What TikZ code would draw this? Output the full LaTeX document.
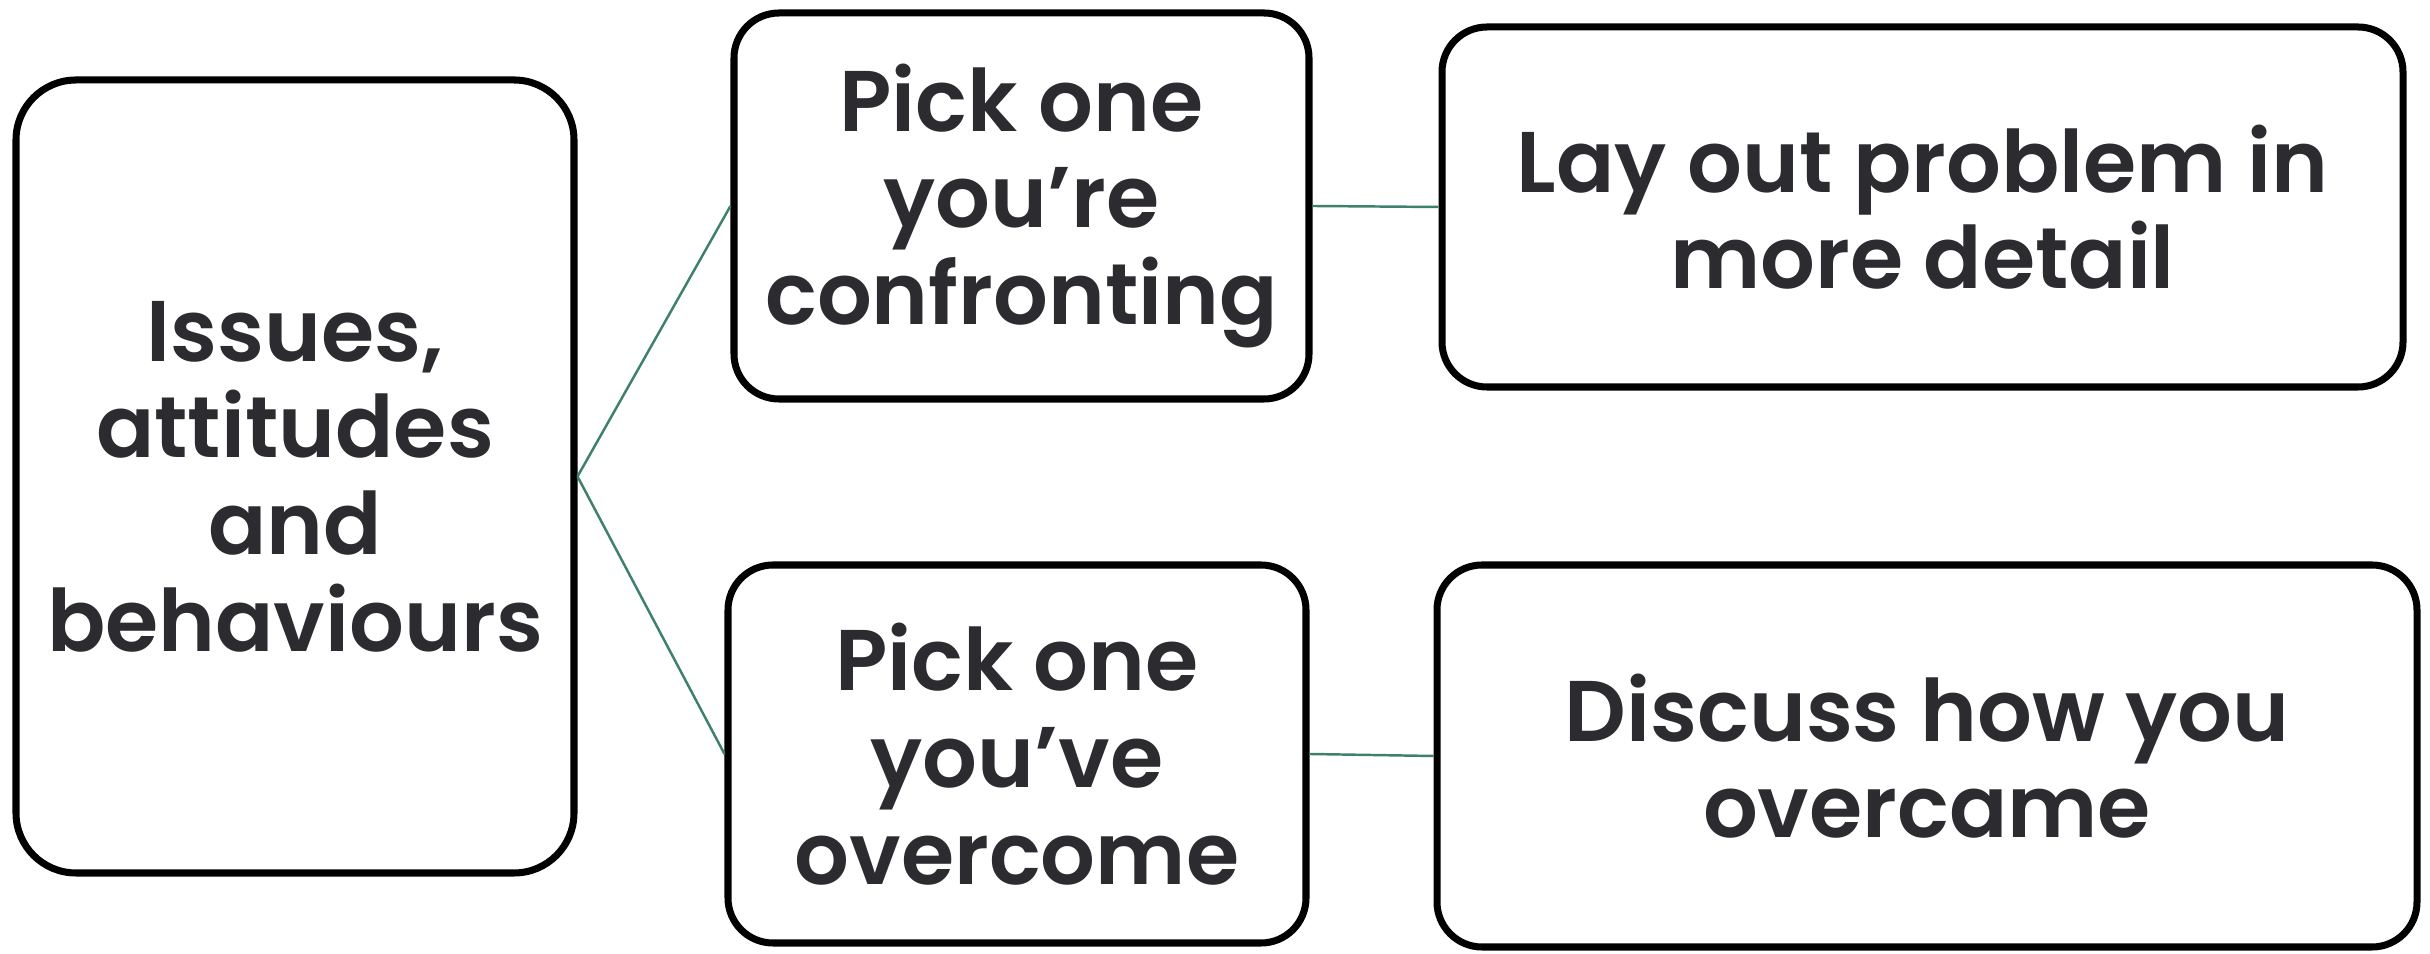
\documentclass[tikz,border=0pt]{standalone}
\usepackage{fontspec}
\setmainfont{Poppins}[BoldFont={Poppins SemiBold}]
\usetikzlibrary{positioning}
\definecolor{textgrey}{HTML}{2B2B30}
\definecolor{linkgreen}{HTML}{3E7F6E}
\tikzset{
    topicbox/.style={
        rectangle, rounded corners=0.45cm,
        draw=black, line width=2pt,
        fill=white, align=center,
        text=textgrey,
        font=\fontsize{24.5}{27.5}\selectfont\bfseries,
    },
    link/.style={draw=linkgreen, line width=0.7pt},
}

\begin{document}
\begin{tikzpicture}
    \useasboundingbox (0,0) rectangle (24.30,-9.54);

    \node (issues) at (2.95,-4.765) [
        topicbox, rounded corners=0.6cm,
        minimum width=5.58cm, minimum height=7.93cm,
    ] {Issues,\\attitudes\\and\\behaviours};

    \node (confront) at (10.215,-2.06) [
        topicbox,
        minimum width=5.75cm, minimum height=3.86cm,
    ] {Pick one\\you’re\\confronting};

    \node (detail) at (19.225,-2.07) [
        topicbox,
        minimum width=9.61cm, minimum height=3.60cm,
    ] {Lay out problem in\\more detail};

    \node (overcome) at (10.17,-7.54) [
        topicbox,
        minimum width=5.78cm, minimum height=3.78cm,
    ] {Pick one\\you’ve\\overcome};

    \node (discuss) at (19.27,-7.56) [
        topicbox,
        minimum width=9.80cm, minimum height=3.82cm,
    ] {Discuss how you\\overcame};

    \draw[link] (issues.east) -- (confront.west);
    \draw[link] (issues.east) -- (overcome.west);
    \draw[link] (confront.east) -- (detail.west);
    \draw[link] (overcome.east) -- (discuss.west);
\end{tikzpicture}
\end{document}
